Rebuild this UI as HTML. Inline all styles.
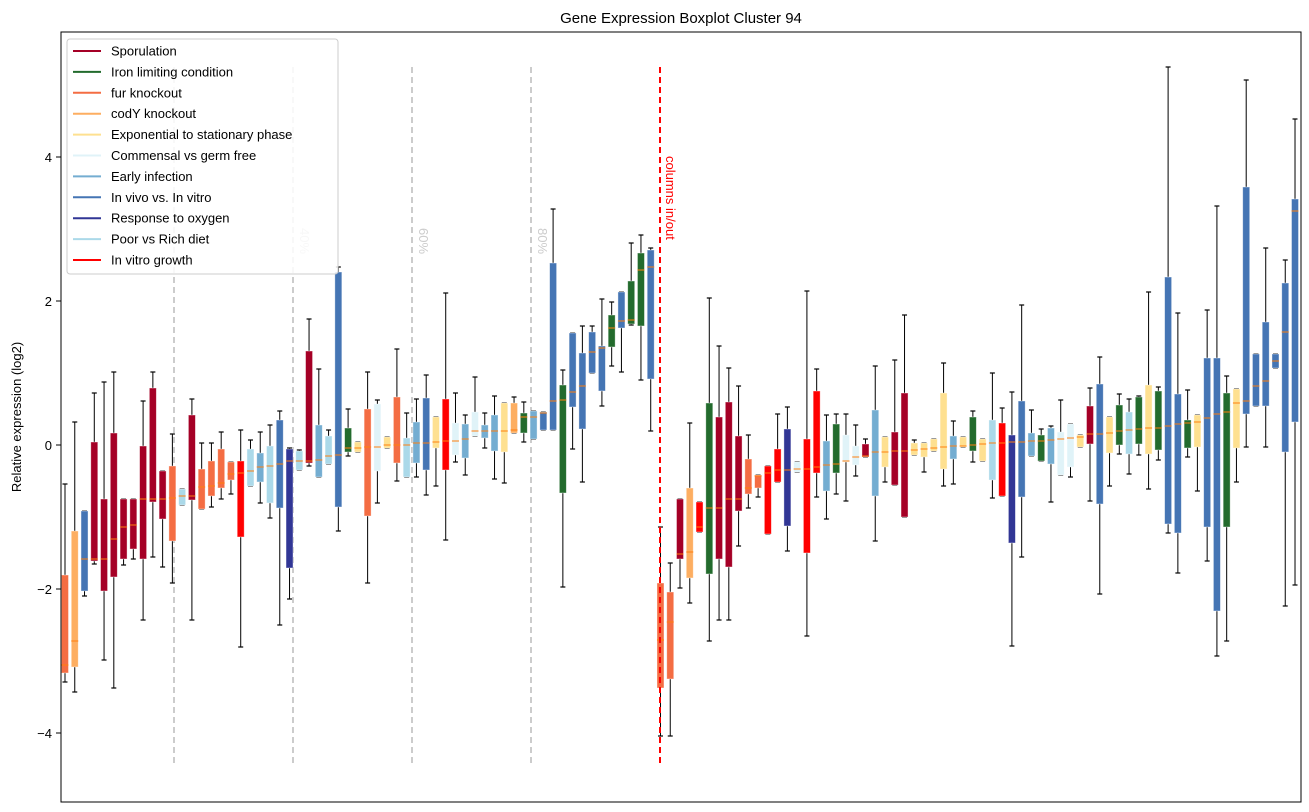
<!DOCTYPE html>
<html><head><meta charset="utf-8"><style>
html,body{margin:0;padding:0;background:#fff;}
svg{display:block;font-family:"Liberation Sans","DejaVu Sans",sans-serif;}
</style></head><body>
<svg id="s" width="1309" height="812" xmlns="http://www.w3.org/2000/svg">
<rect x="0" y="0" width="1309" height="812" fill="#fff"/>
<text x="681" y="23" font-size="15" text-anchor="middle">Gene Expression Boxplot Cluster 94</text>
<text transform="translate(21,417) rotate(-90)" font-size="13" text-anchor="middle">Relative expression (log2)</text>
<g stroke="#ccc" stroke-width="2" stroke-dasharray="6,4">
<line x1="174" y1="67" x2="174" y2="767"/><line x1="293" y1="67" x2="293" y2="767"/>
<line x1="412" y1="67" x2="412" y2="767"/><line x1="531" y1="67" x2="531" y2="767"/>
</g>
<g fill="#ccc" font-size="13">
<text transform="translate(300,228) rotate(90)">40%</text>
<text transform="translate(419,228) rotate(90)">60%</text>
<text transform="translate(538,228) rotate(90)">80%</text>
</g>
<g id="boxes"></g>
<line x1="660" y1="67" x2="660" y2="767" stroke="#f00" stroke-width="2" stroke-dasharray="6,4"/>
<text transform="translate(666,156) rotate(90)" font-size="13" fill="#f00">columns in/out</text>
<rect x="61" y="32" width="1240" height="770" fill="none" stroke="#000" stroke-width="1"/>
<g font-size="13" text-anchor="end">
<line x1="56" y1="157" x2="61" y2="157" stroke="#000"/><text x="52" y="162">4</text>
<line x1="56" y1="301" x2="61" y2="301" stroke="#000"/><text x="52" y="306">2</text>
<line x1="56" y1="445" x2="61" y2="445" stroke="#000"/><text x="52" y="450">0</text>
<line x1="56" y1="589" x2="61" y2="589" stroke="#000"/><text x="52" y="594">−2</text>
<line x1="56" y1="733" x2="61" y2="733" stroke="#000"/><text x="52" y="738">−4</text>
</g>
<g id="legend">
<rect x="67" y="39" width="271" height="235" rx="3" fill="#fff" fill-opacity="0.85" stroke="#ccc"/>
</g>
</svg>
<script>
var C={S:"#a50026",I:"#236b2d",F:"#f46d43",C:"#fdae61",E:"#fee090",M:"#e0f3f8",A:"#74add1",V:"#4575b4",O:"#313695",P:"#abd9e9",R:"#ff0000"};
var D="F 484,575,665,673,682|C 422,531,641,667,692|V 511,511,559,591,596|S 393,442,559,561,564|S 382,499,559,591,660|S 372,433,539,577,688|S 499,499,527,559,565|S 499,499,525,549,559|S 401,446,499,559,620|S 372,388,499,502,557|S 471,471,499,519,567|F 434,466,498,541,583|P 489,489,496,505,505|S 399,415,496,500,620|F 443,469,487,509,509|F 443,461,486,496,507|F 432,449,483,488,499|F 462,462,474,480,494|R 430,461,473,537,647|P 440,449,471,486,486|A 432,453,467,482,503|P 425,446,466,503,518|V 411,420,464,508,625|O 448,449,461,568,599|P 450,451,461,470,470|S 319,351,461,463,466|A 369,425,460,477,477|P 430,436,456,464,464|V 267,272,455,507,531|I 409,428,448,452,456|E 442,442,448,452,452|F 372,409,447,516,583|M 400,404,447,471,503|E 437,437,445,448,448|F 349,397,445,463,481|P 413,438,445,477,477|A 399,422,443,463,477|V 375,398,443,470,495|E 417,417,442,448,486|R 293,399,441,470,540|M 393,423,441,455,462|A 415,424,439,458,475|M 377,412,431,436,436|A 413,425,431,438,448|A 396,415,431,451,479|E 403,403,431,452,483|C 397,403,430,433,433|I 402,413,417,433,442|A 411,411,417,439,439|V 412,412,413,430,430|V 209,263,401,430,430|I 370,385,400,493,587|V 333,333,392,407,449|V 326,353,386,429,482|V 326,332,352,373,373|V 299,346,348,391,406|I 302,315,328,347,366|V 292,292,321,328,372|I 243,281,320,324,325|I 235,253,270,326,380|V 248,250,267,379,431|F 527,583,640,688,736|F 563,592,622,679,736|S 499,499,554,559,588|C 423,488,552,578,603|R 502,502,527,532,532|I 298,403,508,574,641|S 346,417,508,559,620|S 368,402,499,567,620|S 386,436,499,511,546|F 435,459,488,494,508|F 475,475,476,488,497|R 466,466,473,534,534|R 414,449,470,482,482|O 407,429,470,526,551|M 462,462,469,472,472|R 291,439,469,553,636|R 369,391,467,473,497|A 415,441,465,491,519|I 414,424,464,473,494|M 414,435,461,462,501|M 425,446,457,465,476|S 439,444,456,457,457|A 366,410,452,496,541|E 437,437,452,467,482|S 360,432,451,485,485|S 315,393,451,517,517|E 440,443,450,455,455|E 443,443,449,457,472|E 439,439,448,451,451|E 363,393,447,469,486|A 421,436,446,459,484|E 437,437,446,447,447|I 411,417,445,451,462|E 439,439,444,461,461|P 373,420,443,480,498|R 408,423,443,496,496|O 392,435,442,543,646|V 305,401,442,497,557|A 410,433,441,456,456|I 429,435,441,461,461|A 426,428,440,464,502|M 400,432,439,475,475|M 424,424,438,467,477|E 435,435,437,447,447|S 388,406,434,444,501|V 357,384,434,504,594|E 417,417,433,453,486|I 394,405,431,445,454|P 399,412,430,454,474|I 396,397,429,444,455|E 292,385,428,454,489|I 387,391,428,450,460|V 67,277,426,524,533|V 313,394,424,533,573|I 390,420,423,448,457|E 415,415,422,447,491|V 310,358,418,527,561|V 206,358,414,611,656|I 376,393,412,527,641|E 389,389,403,448,482|V 80,187,401,414,447|V 354,354,386,406,406|V 248,322,381,406,447|V 354,354,361,368,368|V 260,283,332,452,606|V 119,199,211,422,585";
var g=document.getElementById("boxes"),h="";
D.split("|").forEach(function(r,i){
 var c=r[0],v=r.slice(2).split(",").map(Number),x=65+i*9.762;
 var wt=v[0],bt=v[1],md=v[2],bb=v[3],wb=v[4];
 h+='<line x1="'+x+'" y1="'+wt+'" x2="'+x+'" y2="'+wb+'" stroke="#000" stroke-width="1"/>';
 h+='<line x1="'+(x-2.5)+'" y1="'+wt+'" x2="'+(x+2.5)+'" y2="'+wt+'" stroke="#000" stroke-width="1.2"/>';
 h+='<line x1="'+(x-2.5)+'" y1="'+wb+'" x2="'+(x+2.5)+'" y2="'+wb+'" stroke="#000" stroke-width="1.2"/>';
 var hh=Math.max(bb-bt,2);
 h+='<rect x="'+(x-3.5)+'" y="'+bt+'" width="7" height="'+hh+'" fill="'+C[c]+'" stroke="#fff" stroke-opacity="0.5" stroke-width="0.8"/>';
 h+='<line x1="'+(x-3.5)+'" y1="'+md+'" x2="'+(x+3.5)+'" y2="'+md+'" stroke="#ff7f0e" stroke-width="1"/>';
});
g.innerHTML=h;
var L=[["Sporulation","S"],["Iron limiting condition","I"],["fur knockout","F"],["codY knockout","C"],["Exponential to stationary phase","E"],["Commensal vs germ free","M"],["Early infection","A"],["In vivo vs. In vitro","V"],["Response to oxygen","O"],["Poor vs Rich diet","P"],["In vitro growth","R"]];
var lg=document.getElementById("legend"),lh=lg.innerHTML;
L.forEach(function(e,i){var y=51+i*20.9;
 lh+='<line x1="73" y1="'+y+'" x2="101" y2="'+y+'" stroke="'+C[e[1]]+'" stroke-width="2"/>';
 lh+='<text x="111" y="'+(y+4.5)+'" font-size="13">'+e[0]+'</text>';});
lg.innerHTML=lh;
</script>
</body></html>
